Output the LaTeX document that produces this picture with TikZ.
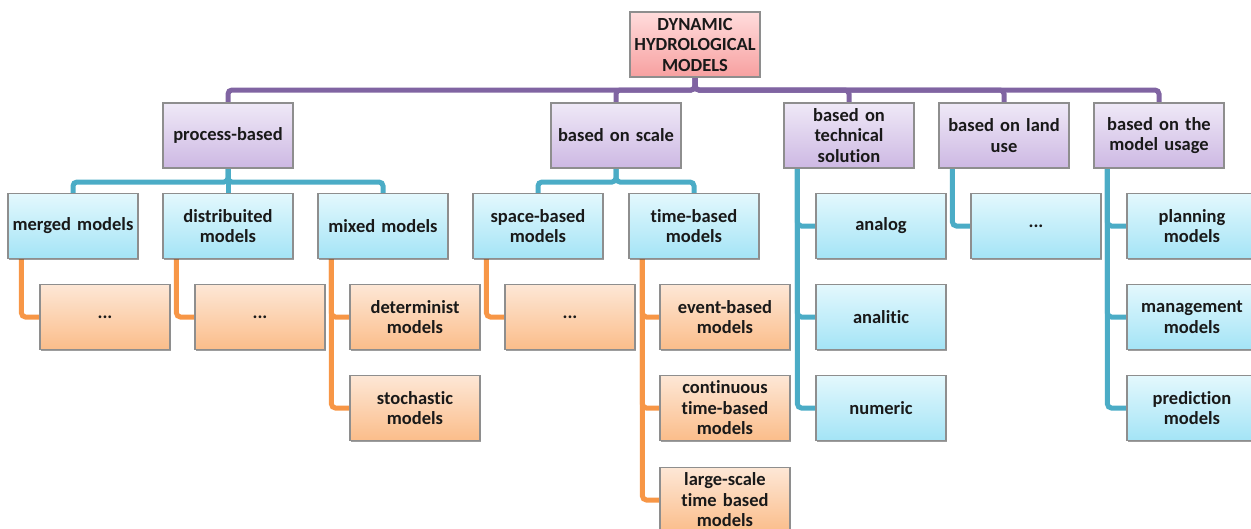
\documentclass[tikz,border=0pt]{standalone}
\usepackage{fontspec}
\setmainfont{Carlito}[Ligatures={NoCommon,NoContextual}, WordSpace={0.8,0.5,0.5}]
\usetikzlibrary{backgrounds,shadows}

\definecolor{linePurple}{HTML}{8064A2}
\definecolor{lineBlue}{HTML}{4BACC6}
\definecolor{lineOrange}{HTML}{F79646}
\definecolor{rootTop}{HTML}{FFDCDC}
\definecolor{rootBot}{HTML}{F7A0A0}
\definecolor{purTop}{HTML}{EFE9F7}
\definecolor{purBot}{HTML}{CDB8E3}
\definecolor{bluTop}{HTML}{E3F8FD}
\definecolor{bluBot}{HTML}{A4E4F6}
\definecolor{orgTop}{HTML}{FDE7D6}
\definecolor{orgBot}{HTML}{FBBD8A}
\definecolor{boxEdge}{HTML}{8E8E8E}

\tikzset{
  box/.style={rectangle, draw=boxEdge, line width=1.1pt,
    minimum width=130pt, minimum height=65pt, text width=128pt,
    align=center, inner sep=0pt,
    font=\fontsize{18.5}{20.5}\selectfont\bfseries, text=black!90,
    drop shadow={shadow xshift=0.6pt, shadow yshift=-1.4pt, opacity=0.55, fill=black!70}},
  rootbox/.style={box, top color=rootTop, bottom color=rootBot},
  purbox/.style={box, top color=purTop, bottom color=purBot},
  blubox/.style={box, top color=bluTop, bottom color=bluBot},
  orgbox/.style={box, top color=orgTop, bottom color=orgBot},
  conn/.style={line width=5pt, rounded corners=4pt},
  pline/.style={conn, draw=linePurple},
  bline/.style={conn, draw=lineBlue},
  oline/.style={conn, draw=lineOrange}
}

\begin{document}
\begin{tikzpicture}[x=1pt,y=-1pt]
\useasboundingbox (0,0) rectangle (1251,528);

% root
\node[rootbox] (root) at (695,44.5) {DYNAMIC\\HYDROLOGICAL\\MODELS};

% first level
\node[purbox] (proc)  at (228,135.5)  {process-based};
\node[purbox] (scale) at (616,135.5)  {based on scale};
\node[purbox] (tech)  at (849,135.5)  {based on\\technical\\solution};
\node[purbox] (land)  at (1004,135.5) {based on land\\use};
\node[purbox] (usage) at (1159,135.5) {based on the\\model usage};

% second level
\node[blubox] (merged)  at (73,226)   {merged models};
\node[blubox] (distr)   at (228,226)  {distribuited\\models};
\node[blubox] (mixed)   at (383,226)  {mixed models};
\node[blubox] (space)   at (538,226)  {space-based\\models};
\node[blubox] (time)    at (694,226)  {time-based\\models};
\node[blubox] (analog)  at (881,226)  {analog};
\node[blubox] (analit)  at (881,317)  {analitic};
\node[blubox] (numer)   at (881,408)  {numeric};
\node[blubox] (landdot) at (1036,226) {...};
\node[blubox] (plan)    at (1192,226) {planning\\models};
\node[blubox] (manag)   at (1192,317) {management\\models};
\node[blubox] (pred)    at (1192,408) {prediction\\models};

% third level
\node[orgbox] (mdots)  at (105,317) {...};
\node[orgbox] (ddots)  at (260,317) {...};
\node[orgbox] (determ) at (415,317) {determinist\\models};
\node[orgbox] (stoch)  at (415,408) {stochastic\\models};
\node[orgbox] (sdots)  at (570,317) {...};
\node[orgbox] (event)  at (725,317) {event-based\\models};
\node[orgbox] (contin) at (725,408) {continuous\\time-based\\models};
\node[orgbox] (large)  at (725,500) {large-scale\\time based\\models};

\begin{scope}[on background layer]
  % purple bus below the root
  \coordinate (pbus) at (0,90);
  \foreach \c in {proc,scale,tech,land,usage}
    \draw[pline] (root.south) -- (root.south |- pbus) -| (\c.north);

  % blue buses
  \coordinate (bbus) at (0,182);
  \foreach \c in {merged,distr,mixed}
    \draw[bline] (proc.south) -- (proc.south |- bbus) -| (\c.north);
  \foreach \c in {space,time}
    \draw[bline] (scale.south) -- (scale.south |- bbus) -| (\c.north);

  % side rails
  \foreach \p/\c in {tech/analog,tech/analit,tech/numer,land/landdot,usage/plan,usage/manag,usage/pred}
    \draw[bline] ([xshift=14pt]\p.south west) |- (\c.west);
  \foreach \p/\c in {merged/mdots,distr/ddots,mixed/determ,mixed/stoch,space/sdots,time/event,time/contin,time/large}
    \draw[oline] ([xshift=14pt]\p.south west) |- (\c.west);
\end{scope}
\end{tikzpicture}
\end{document}
